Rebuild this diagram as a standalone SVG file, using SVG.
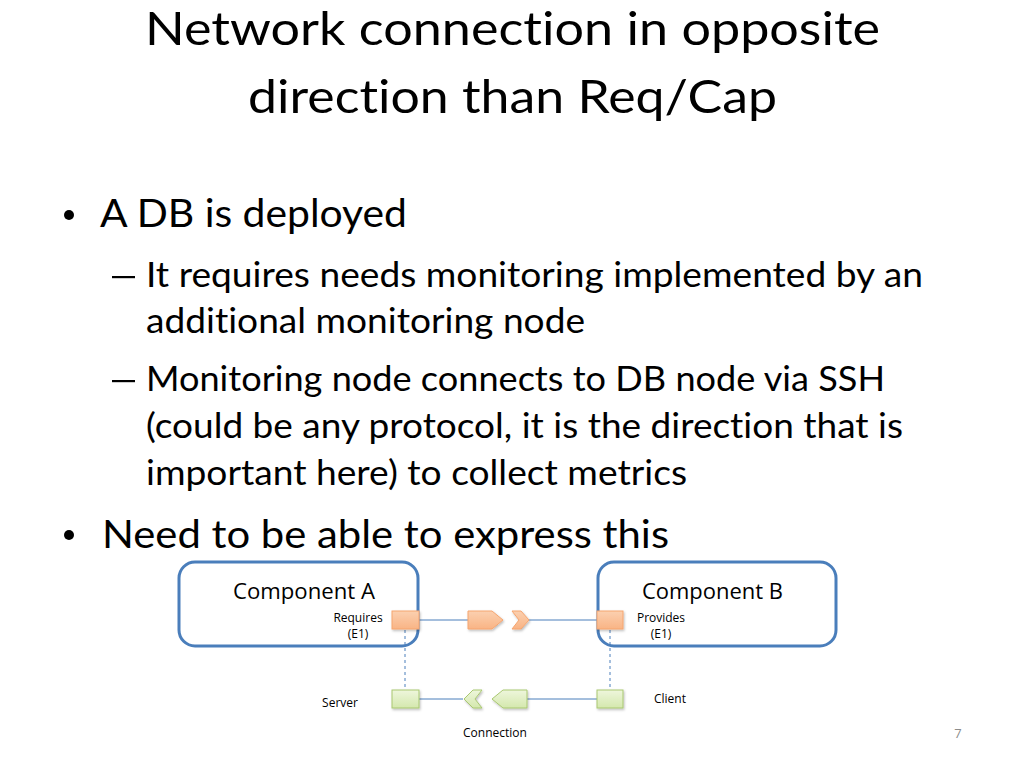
<svg xmlns="http://www.w3.org/2000/svg" width="1024" height="768" viewBox="0 0 1024 768">
<style>
text{font-family:Lato,"Open Sans","Liberation Sans",sans-serif;fill:#000;font-variant-ligatures:none;font-feature-settings:"liga" 0}
.title{font-size:47px}
.l1{font-size:38px}
.l2{font-size:34.5px}
.small{font-family:"Open Sans","Noto Sans",sans-serif;font-size:12px}
.comp{font-family:"Open Sans","Noto Sans",sans-serif;font-size:21.5px}
.box{fill:#fff;stroke:#4a7ebb;stroke-width:3}
.or{fill:url(#og);stroke:#f6a56f;stroke-width:1}
.gr{fill:url(#gg);stroke:#a9c871;stroke-width:1}
.ln{stroke:#4a7ebb;stroke-width:1;fill:none}
.dash{stroke:#4a7ebb;stroke-width:1;stroke-dasharray:3 3;fill:none}
</style>
<defs>
<linearGradient id="og" x1="0" y1="0" x2="0" y2="1">
<stop offset="0" stop-color="#fbd0b0"/>
<stop offset="1" stop-color="#f9b485"/>
</linearGradient>
<linearGradient id="gg" x1="0" y1="0" x2="0" y2="1">
<stop offset="0" stop-color="#eef6dc"/>
<stop offset="1" stop-color="#d4e8ad"/>
</linearGradient>
<filter id="sh" x="-20%" y="-20%" width="150%" height="160%">
<feDropShadow dx="1" dy="1.5" stdDeviation="1" flood-color="#000" flood-opacity="0.25"/>
</filter>
</defs>
<rect width="1024" height="768" fill="#fff"/>

<g id="title">
<text class="title" x="145" y="45" textLength="735" lengthAdjust="spacingAndGlyphs">Network connection in opposite</text>
<text class="title" x="248" y="113" textLength="529" lengthAdjust="spacingAndGlyphs">direction than Req/Cap</text>
</g>

<g id="bullets">
<circle cx="69" cy="215" r="5" fill="#000"/>
<text class="l1" x="100" y="227" textLength="307" lengthAdjust="spacingAndGlyphs">A DB is deployed</text>
<rect x="112" y="276" width="23" height="2.2" fill="#000"/>
<text class="l2" x="146" y="287" textLength="777" lengthAdjust="spacingAndGlyphs">It requires needs monitoring implemented by an</text>
<text class="l2" x="146" y="333" textLength="439" lengthAdjust="spacingAndGlyphs">additional monitoring node</text>
<rect x="112" y="380" width="23" height="2.2" fill="#000"/>
<text class="l2" x="146" y="391" textLength="739" lengthAdjust="spacingAndGlyphs">Monitoring node connects to DB node via SSH</text>
<text class="l2" x="146" y="438" textLength="757" lengthAdjust="spacingAndGlyphs">(could be any protocol, it is the direction that is</text>
<text class="l2" x="146" y="485" textLength="541" lengthAdjust="spacingAndGlyphs">important here) to collect metrics</text>
<circle cx="69" cy="535" r="5" fill="#000"/>
<text class="l1" x="102" y="548" textLength="567" lengthAdjust="spacingAndGlyphs">Need to be able to express this</text>
</g>

<g id="componentA">
<rect class="box" x="179" y="562" width="239" height="84" rx="16"/>
<text class="comp" x="233" y="599" textLength="142" lengthAdjust="spacingAndGlyphs">Component A</text>
</g>

<g id="componentB">
<rect class="box" x="598" y="562" width="238" height="84" rx="16"/>
<text class="comp" x="642" y="599" textLength="141" lengthAdjust="spacingAndGlyphs">Component B</text>
</g>

<g id="connectors">
<line class="ln" x1="419" y1="620" x2="468" y2="620"/>
<line class="ln" x1="529" y1="620" x2="597" y2="620"/>
<line class="ln" x1="419" y1="699" x2="463" y2="699"/>
<line class="ln" x1="527" y1="699" x2="597" y2="699"/>
<line class="dash" x1="405" y1="630" x2="405" y2="690"/>
<line class="dash" x1="610" y1="630" x2="610" y2="690"/>
</g>

<g id="requires">
<rect class="or" x="392" y="611" width="27" height="18" filter="url(#sh)"/>
<text class="small" x="358" y="622" text-anchor="middle">Requires</text>
<text class="small" x="358" y="638" text-anchor="middle">(E1)</text>
</g>

<g id="provides">
<rect class="or" x="597" y="611" width="26" height="18" filter="url(#sh)"/>
<text class="small" x="661" y="622" text-anchor="middle">Provides</text>
<text class="small" x="661" y="638" text-anchor="middle">(E1)</text>
</g>

<g id="server">
<rect class="gr" x="392" y="690" width="27" height="18" filter="url(#sh)"/>
<text class="small" x="340" y="707" text-anchor="middle">Server</text>
</g>

<g id="client">
<rect class="gr" x="597" y="690" width="26" height="18" filter="url(#sh)"/>
<text class="small" x="670" y="703" text-anchor="middle">Client</text>
</g>

<g id="reqcap-arrow">
<polygon class="or" points="468,611 492,611 503,620 492,629 468,629" filter="url(#sh)"/>
<polygon class="or" points="512,611 521,611 529,620 521,629 512,629 519,620" filter="url(#sh)"/>
</g>

<g id="connection-arrow">
<polygon class="gr" points="527,690 503,690 492,699 503,708 527,708" filter="url(#sh)"/>
<polygon class="gr" points="482,690 473,690 464,699 473,708 482,708 475,699" filter="url(#sh)"/>
<text class="small" x="495" y="737" text-anchor="middle">Connection</text>
</g>

<text x="958" y="738" text-anchor="middle" style="font-family:'Open Sans',sans-serif;font-size:13px;fill:#8c8c8c">7</text>
</svg>
